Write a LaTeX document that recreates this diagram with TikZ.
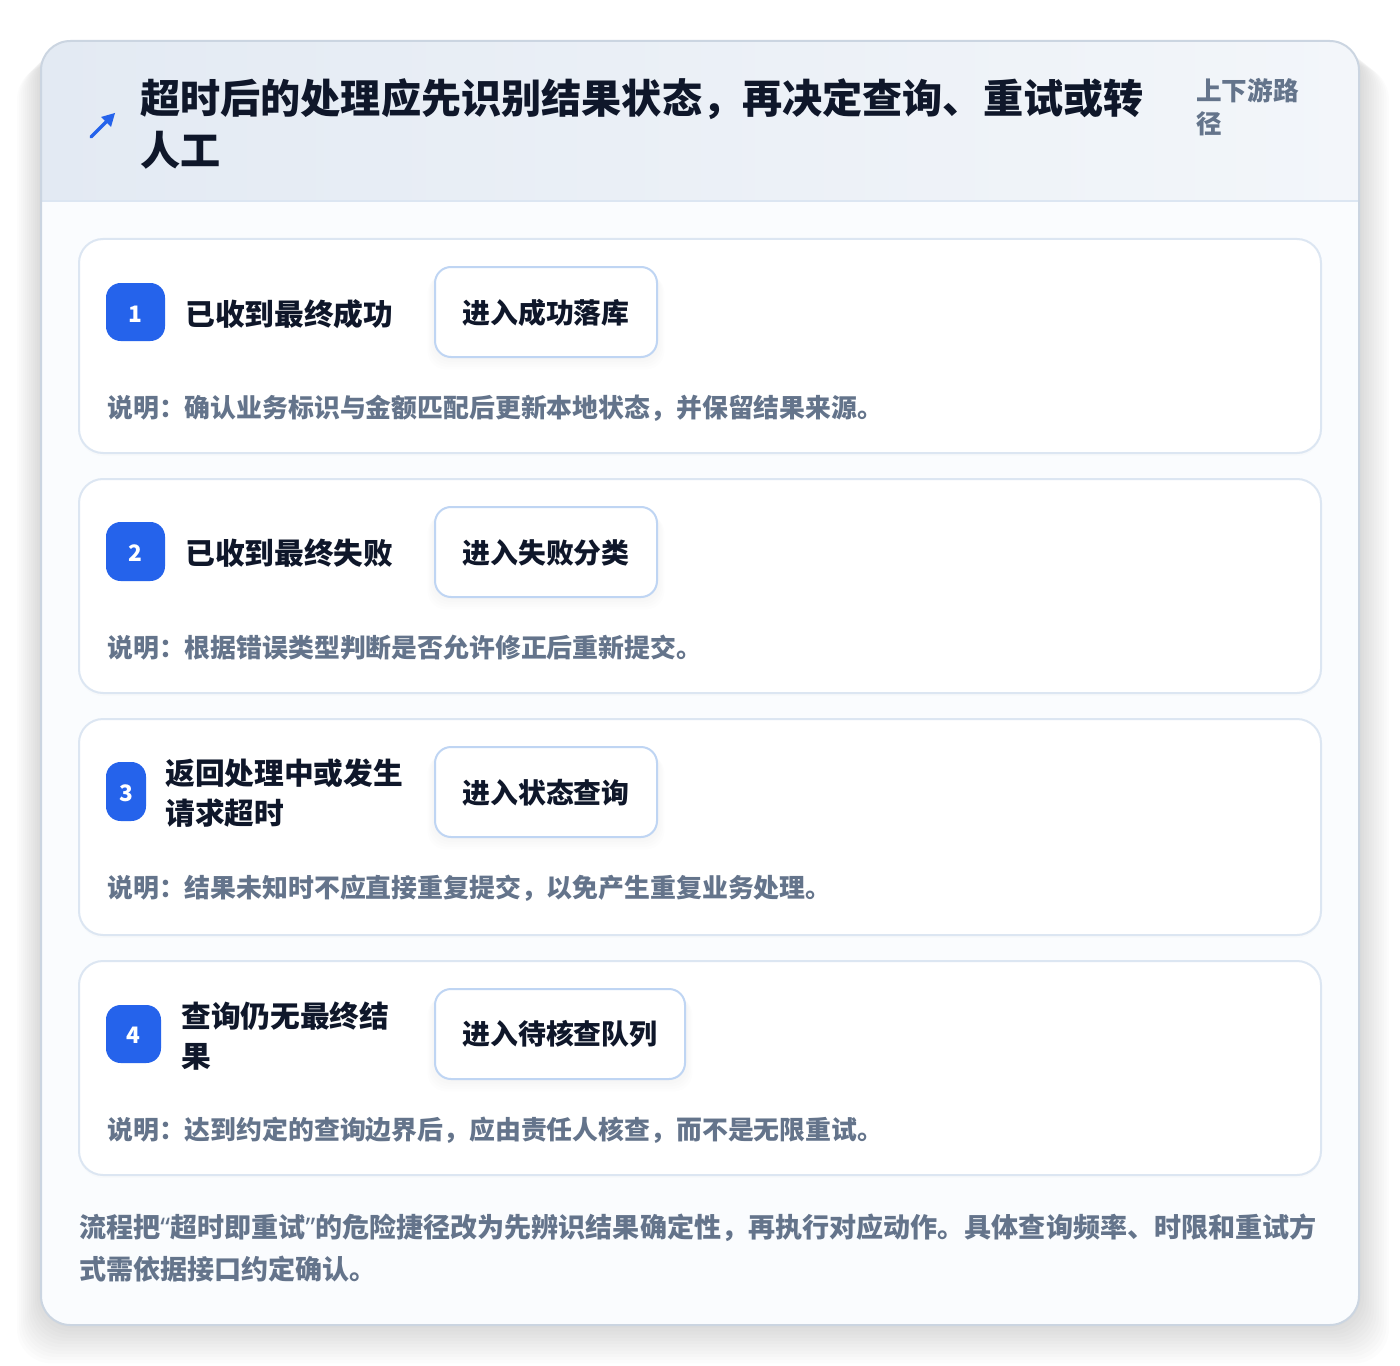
\documentclass[tikz,border=0pt]{standalone}
\usepackage{fontspec}
\setmainfont{Noto Sans CJK SC}
\newfontfamily\latinq{Noto Sans}
\definecolor{blue1}{HTML}{2563EB}
\definecolor{ink}{HTML}{0F172A}
\definecolor{muted}{HTML}{64748B}
\definecolor{cardline}{HTML}{DCE6F2}
\definecolor{outerline}{HTML}{CBD5E1}
\definecolor{actline}{HTML}{BFD5F3}
\definecolor{headL}{HTML}{E3EAF3}
\definecolor{headR}{HTML}{F3F6FA}
\definecolor{bodyfill}{HTML}{FAFCFE}
\tikzset{
  stepcard/.style={draw=cardline, line width=1.5pt, fill=white, rounded corners=18pt},
  badge/.style={fill=blue1, rounded corners=11pt},
  badgetxt/.style={text=white, font=\bfseries\fontsize{17}{19}\selectfont, inner sep=0pt},
  steplabel/.style={text=ink, font=\bfseries\fontsize{22.3}{30}\selectfont, inner sep=0pt, anchor=west, align=left},
  actbox/.style={draw=actline, line width=1.5pt, fill=white, rounded corners=12pt},
  acttxt/.style={text=ink, font=\bfseries\fontsize{20.9}{24}\selectfont, inner sep=0pt},
  desc/.style={text=muted, font=\bfseries\fontsize{19.4}{24}\selectfont, inner sep=0pt, anchor=west},
}
\begin{document}
\begin{tikzpicture}[x=0.75pt,y=-0.75pt]
\useasboundingbox (0,0) rectangle (1400,1366);
\fill[white] (0,0) rectangle (1400,1366);
% outer shadow
\foreach \i in {1,...,12}{
  \fill[black, opacity=0.010, rounded corners=26pt] (41-\i*2,41+\i*2) rectangle (1359+\i*2.5,1325+\i*3.2);
}
% outer card
\fill[bodyfill, rounded corners=22pt] (41,41) rectangle (1359,1325);
\begin{scope}
  \clip[rounded corners=22pt] (41,41) rectangle (1359,1325);
  \shade[left color=headL, right color=headR] (41,41) rectangle (1359,201);
  \draw[cardline, line width=1.5pt] (41,201) -- (1359,201);
\end{scope}
\draw[outerline, line width=1.5pt, rounded corners=22pt] (41,41) rectangle (1359,1325);

% header
\draw[blue1, line width=2.4pt, line cap=round] (91,137) -- (111,117);
\fill[blue1] (115,113) -- (101,117) -- (111,127) -- cycle;
\node[text=ink, font=\bfseries\fontsize{30.1}{39}\selectfont, inner sep=0pt, anchor=west, align=left] (title) at (140,124)
  {超时后的处理应先识别结果状态，再决定查询、重试或转\\人工};
\node[text=muted, font=\bfseries\fontsize{19.2}{25}\selectfont, inner sep=0pt, anchor=west, align=left] (side) at (1196,107)
  {上下游路\\径};

% step cards
\foreach \t/\b in {239/453, 479/693, 719/935, 961/1175}{
  \fill[black, opacity=0.012, rounded corners=18pt] (79,\t+2) rectangle (1321,\b+3);
}
\draw[stepcard] (79,239) rectangle (1321,453);
\draw[stepcard] (79,479) rectangle (1321,693);
\draw[stepcard] (79,719) rectangle (1321,935);
\draw[stepcard] (79,961) rectangle (1321,1175);

% badges
\fill[badge] (106,283) rectangle (165,341);
\node[badgetxt] (b1) at (135.5,314) {1};
\fill[badge] (106,522) rectangle (165,581);
\node[badgetxt] (b2) at (135.5,553) {2};
\fill[badge] (106,762) rectangle (146,821);
\node[badgetxt] (b3) at (126,793) {3};
\fill[badge] (106,1005) rectangle (161,1063);
\node[badgetxt] (b4) at (133.5,1035) {4};

% step labels
\node[steplabel] (l1) at (185,314) {已收到最终成功};
\node[steplabel] (l2) at (185,553) {已收到最终失败};
\node[steplabel] (l3) at (165,793) {返回处理中或发生\\请求超时};
\node[steplabel] (l4) at (181,1036) {查询仍无最终结\\果};

% action boxes (with soft shadow)
\foreach \y/\r in {267/657, 507/657, 747/657, 989/685}{
  \foreach \k in {1,...,5}{
    \fill[black, opacity=0.008, rounded corners=14pt] (435-\k*1.5,\y+\k*1.5) rectangle (\r+\k*1.5,\y+90+\k*2.5);
  }
}
\draw[actbox] (435,267) rectangle (657,357);
\node[acttxt] (a1) at (546,313) {进入成功落库};
\draw[actbox] (435,507) rectangle (657,597);
\node[acttxt] (a2) at (546,553) {进入失败分类};
\draw[actbox] (435,747) rectangle (657,837);
\node[acttxt] (a3) at (546,793) {进入状态查询};
\draw[actbox] (435,989) rectangle (685,1079);
\node[acttxt] (a4) at (560,1034) {进入待核查队列};

% descriptions
\node[desc] (d1) at (107,408) {说明：确认业务标识与金额匹配后更新本地状态，并保留结果来源。};
\node[desc] (d2) at (107,648) {说明：根据错误类型判断是否允许修正后重新提交。};
\node[desc] (d3) at (107,888) {说明：结果未知时不应直接重复提交，以免产生重复业务处理。};
\node[desc] (d4) at (107,1130) {说明：达到约定的查询边界后，应由责任人核查，而不是无限重试。};

% footer
\node[text=muted, font=\bfseries\fontsize{20.3}{31.5}\selectfont, inner sep=0pt, anchor=west, align=left] (foot) at (79,1248)
  {流程把{\latinq “}超时即重试{\latinq ”}的危险捷径改为先辨识结果确定性，再执行对应动作。具体查询频率、时限和重试方\\式需依据接口约定确认。};
\end{tikzpicture}
\end{document}
